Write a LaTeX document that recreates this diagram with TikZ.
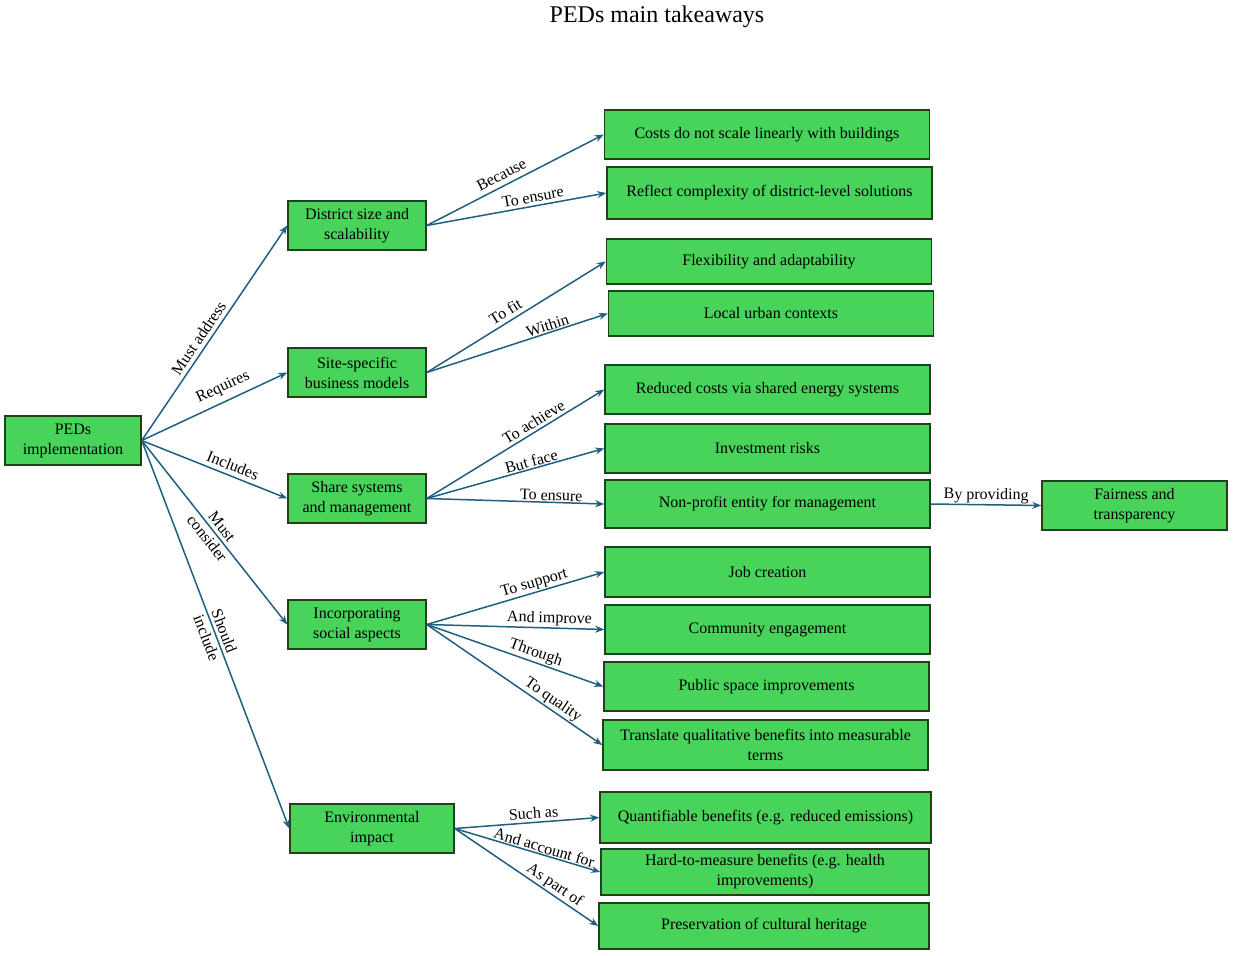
\documentclass[tikz,border=0pt]{standalone}
\usepackage{fontspec}
\setmainfont{Liberation Serif}
\usetikzlibrary{arrows.meta}

\definecolor{boxfill}{RGB}{72,212,90}
\definecolor{boxline}{RGB}{32,66,26}
\definecolor{linkblue}{RGB}{31,96,128}

\begin{document}
\begin{tikzpicture}[x=1pt, y=-1pt, >={Stealth[length=9pt,width=7pt]},
    box/.style={draw=boxline, fill=boxfill, line width=1.5pt, align=center,
      inner sep=2pt, font=\fontsize{16}{20}\selectfont},
    lvone/.style={box, minimum width=138pt, minimum height=49pt},
    lvtwo/.style={box, minimum width=325pt, minimum height=49pt},
    link/.style={->, draw=linkblue, line width=1.5pt},
    lab/.style={sloped, font=\fontsize{16}{18}\selectfont, inner sep=1pt}]
    \useasboundingbox (0,0) rectangle (1233,955);
    \node(title) at (657,17) {\fontsize{24}{28}\selectfont PEDs main takeaways};

    % root and first level
    \node(ped)[box, minimum width=136pt, minimum height=49pt] at (73,440.5) {PEDs\\implementation};
    \node(dist)[lvone] at (357,225.5) {District size and\\scalability};
    \node(site)[lvone] at (357,372.5) {Site-specific\\business models};
    \node(share)[lvone] at (357,498.5) {Share systems\\and management};
    \node(social)[lvone] at (357,624.5) {Incorporating\\social aspects};
    \node(env)[box, minimum width=164pt, minimum height=49pt] at (372,828.5) {Environmental\\impact};

    % second level
    \node(costs)[lvtwo] at (767,134.5) {Costs do not scale linearly with buildings};
    \node(reflect)[lvtwo, minimum height=52pt] at (769.5,193) {Reflect complexity of district-level solutions};
    \node(flex)[lvtwo, minimum height=45pt] at (769,261.5) {Flexibility and adaptability};
    \node(local)[lvtwo, minimum height=45pt] at (771,313.5) {Local urban contexts};
    \node(reduced)[lvtwo] at (767.5,389.5) {Reduced costs via shared energy systems};
    \node(risks)[lvtwo] at (767.5,448.5) {Investment risks};
    \node(nonprofit)[lvtwo, minimum height=48pt] at (767.5,504) {Non-profit entity for management};
    \node(fair)[box, minimum width=185pt, minimum height=49pt] at (1134.5,505.5) {Fairness and\\transparency};
    \node(jobs)[lvtwo, minimum height=50pt] at (767.5,572) {Job creation};
    \node(community)[lvtwo] at (767.5,629.5) {Community engagement};
    \node(public)[lvtwo] at (766.5,686.5) {Public space improvements};
    \node(translate)[lvtwo, minimum height=50pt] at (765.5,745) {Translate qualitative benefits into measurable\\terms};
    \node(quant)[lvtwo, minimum width=331pt, minimum height=51pt] at (765.5,817.5) {Quantifiable benefits (e.g. reduced emissions)};
    \node(hard)[lvtwo, minimum width=328pt, minimum height=46pt] at (765,872) {Hard-to-measure benefits (e.g. health\\improvements)};
    \node(heritage)[lvtwo, minimum width=330pt, minimum height=46pt] at (764,926) {Preservation of cultural heritage};

    % links from the root
    \draw[link] (ped.east) -- (dist.west) node[lab, pos=0.45, above=3pt] {Must address};
    \draw[link] (ped.east) -- (site.west) node[lab, pos=0.6, above=5pt] {Requires};
    \draw[link] (ped.east) -- (share.west) node[lab, pos=0.6, above=3pt] {Includes};
    \draw[link] (ped.east) -- (social.west) node[lab, pos=0.5, align=center, font=\fontsize{16}{19}\selectfont] {Must\\consider};
    \draw[link] (ped.east) -- (env.west) node[lab, pos=0.5, align=center, font=\fontsize{16}{19}\selectfont] {Should\\include};

    % links to the second level
    \draw[link] (dist.east) -- (costs.west) node[lab, pos=0.45, above=4pt] {Because};
    \draw[link] (dist.east) -- (reflect.west) node[lab, pos=0.6, above=2pt] {To ensure};
    \draw[link] (site.east) -- (flex.west) node[lab, pos=0.47, above=3pt] {To fit};
    \draw[link] (site.east) -- (local.west) node[lab, pos=0.68, above] {Within};
    \draw[link] (share.east) -- (reduced.west) node[lab, pos=0.63, above=2pt] {To achieve};
    \draw[link] (share.east) -- (risks.west) node[lab, pos=0.6, above] {But face};
    \draw[link] (share.east) -- (nonprofit.west) node[lab, pos=0.7, above] {To ensure};
    \draw[link] (nonprofit.east) -- (fair.west) node[lab, midway, above] {By providing};
    \draw[link] (social.east) -- (jobs.west) node[lab, pos=0.62, above] {To support};
    \draw[link] (social.east) -- (community.west) node[lab, pos=0.69, above] {And improve};
    \draw[link] (social.east) -- (public.west) node[lab, pos=0.6, above] {Through};
    \draw[link] (social.east) -- (translate.west) node[lab, pos=0.69, above] {To quality};
    \draw[link] (env.east) -- (quant.west) node[lab, pos=0.55, above=2pt] {Such as};
    \draw[link] (env.east) -- (hard.west) node[lab, pos=0.6, above] {And account for};
    \draw[link] (env.east) -- (heritage.west) node[lab, pos=0.66, above] {As part of};
  \end{tikzpicture}
\end{document}
